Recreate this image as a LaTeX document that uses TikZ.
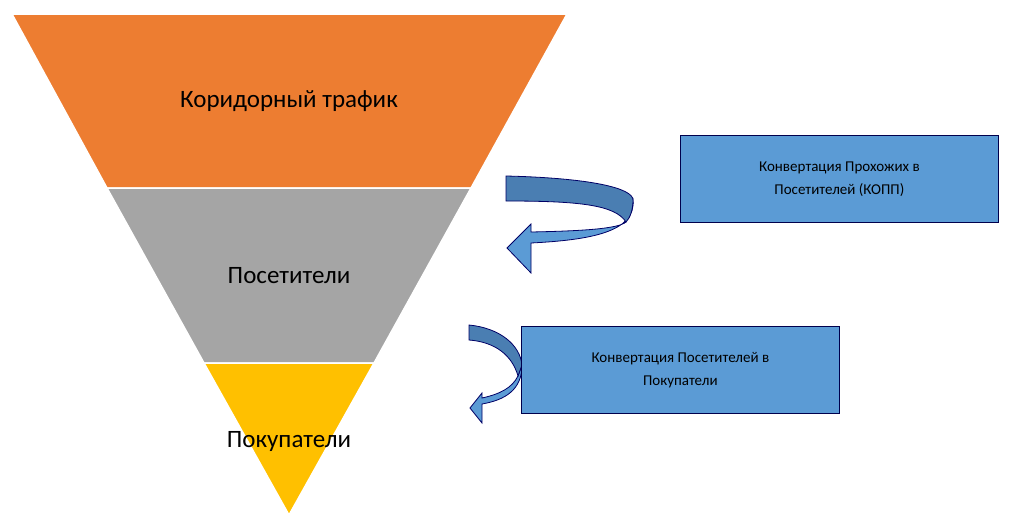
\documentclass[tikz,border=0pt]{standalone}
\usepackage{fontspec}
\setmainfont{Carlito}
\begin{document}
\begin{tikzpicture}[x=1pt,y=-1pt,
  band/.style={draw=white,line width=1.5pt},
  big/.style={font=\fontsize{25}{30}\selectfont},
  box/.style={draw=black!70!blue,line width=0.8pt,fill=boxblue,minimum width=318pt,minimum height=87pt,align=center,font=\fontsize{15}{23}\selectfont,anchor=north west},
  rib/.style={draw=black!60!blue,line width=0.8pt}]
\definecolor{boxblue}{HTML}{5B9BD5}
\definecolor{darkrib}{HTML}{4A7EB2}
\useasboundingbox (0,0) rectangle (1010,530);
\fill[white] (0,0) rectangle (1010,530);
\fill[color={rgb,255:red,237;green,125;blue,49},band] (12,14) -- (567,14) -- (471,188) -- (107,188) -- cycle;
\fill[color={rgb,255:red,165;green,165;blue,165},band] (107,188) -- (471,188) -- (374,363) -- (204,363) -- cycle;
\fill[color={rgb,255:red,255;green,192;blue,0},band] (204,363) -- (374,363) -- (289,515) -- cycle;
\node[big] (t1) at (289,101) {Коридорный трафик};
\node[big] (t2) at (289,276) {Посетители};
\node[big] (t3) at (289,441) {Покупатели};
% arrow 1
\filldraw[fill=boxblue,rib] (633,200) .. controls (636,232) and (590,240) .. (531,243) -- (531,273) -- (507,248) -- (531,224) -- (531,232) .. controls (580,231) and (618,229) .. (626,222) -- cycle;
\filldraw[fill=darkrib,rib] (506,176) .. controls (590,178) and (633,188) .. (633,200) .. controls (633,210) and (630,218) .. (626,222) .. controls (615,205) and (580,201) .. (506,201) -- cycle;
% arrow 2
\filldraw[fill=boxblue,rib] (522,365) .. controls (522,390) and (505,400) .. (482,404) -- (482,423) -- (470,408) -- (482,393) -- (482,398) .. controls (500,394) and (512,388) .. (518,376) -- cycle;
\filldraw[fill=darkrib,rib] (469,325) .. controls (500,328) and (520,345) .. (522,365) -- (518,376) .. controls (512,355) and (495,342) .. (469,340) -- cycle;
\node[box] (b1) at (680,135) {Конвертация Прохожих в\\Посетителей (КОПП)};
\node[box] (b2) at (521,326) {Конвертация Посетителей в\\Покупатели};
\end{tikzpicture}
\end{document}
